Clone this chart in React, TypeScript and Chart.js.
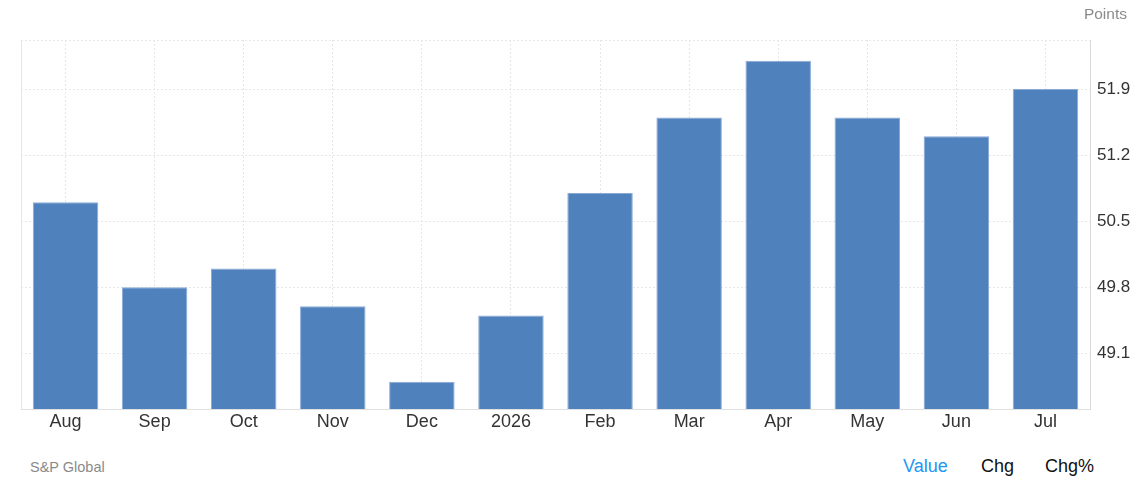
import React, { useEffect, useRef } from "react";
import { Chart, registerables } from "chart.js";

Chart.register(...registerables);

const categories = ["Aug", "Sep", "Oct", "Nov", "Dec", "2026", "Feb", "Mar", "Apr", "May", "Jun", "Jul"];
const values = [50.7, 49.8, 50.0, 49.6, 48.8, 49.5, 50.8, 51.6, 52.2, 51.6, 51.4, 51.9];
const yTicks = [49.1, 49.8, 50.5, 51.2, 51.9];
const yMin = 48.51;
const yMax = 52.42;

const FONT = "Arial, 'Liberation Sans', sans-serif";

const framePlugin = {
  id: "frame",
  beforeDatasetsDraw(chart: any) {
    const { ctx, chartArea } = chart;
    ctx.save();
    ctx.strokeStyle = "#e6e6e6";
    ctx.lineWidth = 1;
    ctx.beginPath();
    ctx.moveTo(chartArea.left + 0.5, chartArea.top);
    ctx.lineTo(chartArea.left + 0.5, chartArea.bottom);
    ctx.stroke();
    ctx.setLineDash([2, 2]);
    ctx.beginPath();
    ctx.moveTo(chartArea.left, chartArea.top + 0.5);
    ctx.lineTo(chartArea.right, chartArea.top + 0.5);
    ctx.stroke();
    ctx.restore();
  },
};

export default function App() {
  const ref = useRef<HTMLCanvasElement | null>(null);

  useEffect(() => {
    if (!ref.current) return;
    const chart = new Chart(ref.current, {
      type: "bar",
      data: {
        labels: categories,
        datasets: [
          {
            data: values,
            backgroundColor: "#4f81bd",
            borderColor: "#8aaad6",
            borderWidth: { top: 1, left: 1, right: 1, bottom: 0 },
            categoryPercentage: 1,
            barPercentage: 0.735,
          },
        ],
      },
      options: {
        animation: false,
        responsive: false,
        maintainAspectRatio: false,
        layout: { padding: { left: 21, top: 40, right: 0, bottom: 0 } },
        plugins: {
          legend: { display: false },
          tooltip: { enabled: false },
        },
        scales: {
          x: {
            grid: { offset: false, color: "#e6e6e6", drawTicks: false },
            border: { color: "#e0e0e0", dash: [2, 2] },
            ticks: {
              color: "#333333",
              font: { family: FONT, size: 18 },
              padding: 2,
              maxRotation: 0,
              autoSkip: false,
            },
            afterFit(scale: any) {
              scale.height = 31;
            },
          },
          y: {
            position: "right",
            min: yMin,
            max: yMax,
            grid: { color: "#e6e6e6", drawTicks: false },
            border: { color: "#d9d9d9", dash: [2, 2] },
            ticks: {
              color: "#333333",
              font: { family: FONT, size: 17 },
              padding: 7,
              callback: (v: any) => Number(v).toFixed(1),
            },
            afterBuildTicks(scale: any) {
              scale.ticks = yTicks.map((v) => ({ value: v }));
            },
            afterFit(scale: any) {
              scale.width = 47;
            },
          },
        },
      },
      plugins: [framePlugin],
    });
    return () => chart.destroy();
  }, []);

  return (
    <div
      style={{
        position: "absolute",
        left: 0,
        top: 0,
        width: 1137,
        height: 490,
        background: "#fff",
        fontFamily: FONT,
      }}
    >
      <canvas
        ref={ref}
        width={1137}
        height={440}
        style={{ position: "absolute", left: 0, top: 0, width: 1137, height: 440 }}
      />
      <div style={{ position: "absolute", right: 10, top: 5, fontSize: 15.5, color: "#8a8a8a" }}>Points</div>
      <div style={{ position: "absolute", left: 30, top: 459, fontSize: 14.5, color: "#8a8a8a" }}>S&amp;P Global</div>
      <div style={{ position: "absolute", left: 903, top: 456, fontSize: 18, color: "#2196f3" }}>Value</div>
      <div style={{ position: "absolute", left: 981, top: 456, fontSize: 18, color: "#111" }}>Chg</div>
      <div style={{ position: "absolute", left: 1045, top: 456, fontSize: 18, color: "#111" }}>Chg%</div>
    </div>
  );
}
